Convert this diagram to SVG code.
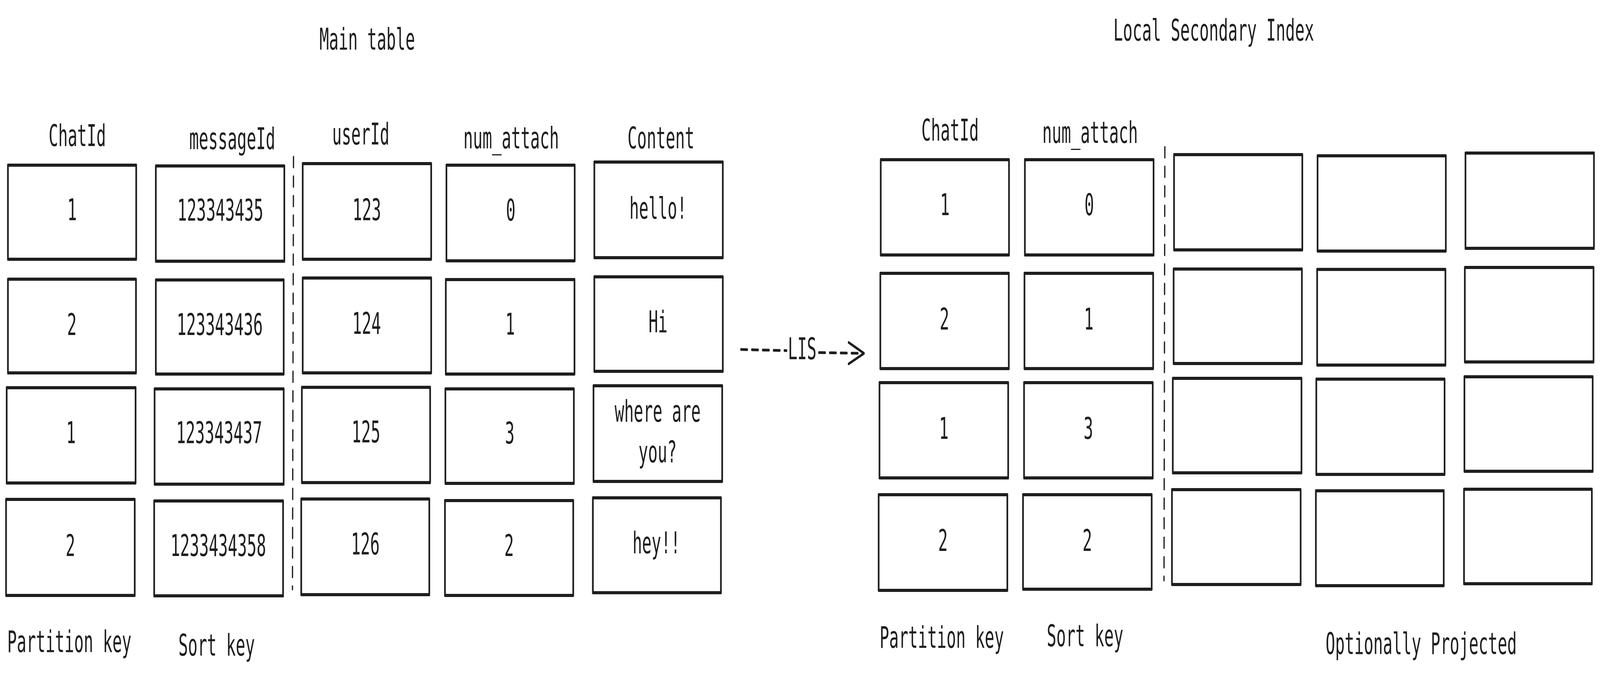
<svg xmlns="http://www.w3.org/2000/svg" width="7659" height="1739" viewBox="0 0 7659 1739" preserveAspectRatio="none" style="width:100vw;height:100vh;display:block">
<style>
  .box { fill: #ffffff; stroke: #1e1e1e; stroke-width: 8; stroke-linejoin: round; }
  .t { font-family: "DejaVu Sans Mono", "Liberation Mono", monospace; font-size: 76px; fill: #1e1e1e; text-anchor: middle; }
  .sep { stroke: #1e1e1e; stroke-width: 6; stroke-dasharray: 26 24; stroke-linecap: round; fill: none; }
  .conn { stroke: #1e1e1e; stroke-width: 7; stroke-dasharray: 30 22; stroke-linecap: round; fill: none; }
  .head { stroke: #1e1e1e; stroke-width: 7; stroke-linecap: round; stroke-linejoin: round; fill: none; }
</style>
<rect x="0" y="0" width="7659" height="1739" fill="#ffffff"/>

<!-- Titles and labels -->
<g id="title-main"><text class="t" x="1758" y="127">Main table</text></g>
<g id="title-lsi"><text class="t" x="5810" y="104">Local Secondary Index</text></g>

<g id="hdr-m-chatid"><text class="t" x="370" y="374">ChatId</text></g>
<g id="hdr-m-messageid"><text class="t" x="1112" y="382">messageId</text></g>
<g id="hdr-m-userid"><text class="t" x="1727" y="370">userId</text></g>
<g id="hdr-m-numattach"><text class="t" x="2447" y="380">num_attach</text></g>
<g id="hdr-m-content"><text class="t" x="3164" y="380">Content</text></g>
<g id="lbl-m-partition"><text class="t" x="332" y="1670">Partition key</text></g>
<g id="lbl-m-sort"><text class="t" x="1037" y="1679">Sort key</text></g>

<g id="hdr-l-chatid"><text class="t" x="4548" y="360">ChatId</text></g>
<g id="hdr-l-numattach"><text class="t" x="5218" y="366">num_attach</text></g>
<g id="lbl-l-partition"><text class="t" x="4508" y="1659">Partition key</text></g>
<g id="lbl-l-sort"><text class="t" x="5194" y="1655">Sort key</text></g>
<g id="lbl-l-projected"><text class="t" x="6803" y="1675">Optionally Projected</text></g>

<!-- Main table: ChatId -->
<g id="m-chat-1"><rect class="box" x="38" y="423" width="614" height="241"/><text class="t" x="345" y="564">1</text></g>
<g id="m-chat-2"><rect class="box" x="38" y="715" width="613" height="240"/><text class="t" x="344" y="858">2</text></g>
<g id="m-chat-3"><rect class="box" x="32" y="993" width="617" height="244"/><text class="t" x="340" y="1135">1</text></g>
<g id="m-chat-4"><rect class="box" x="29" y="1279" width="616" height="246"/><text class="t" x="337" y="1424">2</text></g>

<!-- Main table: messageId -->
<g id="m-msg-1"><rect class="box" x="746" y="425" width="615" height="244"/><text class="t" x="1055" y="565">123343435</text></g>
<g id="m-msg-2"><rect class="box" x="746" y="717" width="612" height="241"/><text class="t" x="1052" y="858">123343436</text></g>
<g id="m-msg-3"><rect class="box" x="740" y="996" width="618" height="244"/><text class="t" x="1049" y="1135">123343437</text></g>
<g id="m-msg-4"><rect class="box" x="738" y="1283" width="617" height="243"/><text class="t" x="1045" y="1424">1233434358</text></g>

<!-- Main table: userId -->
<g id="m-user-1"><rect class="box" x="1449" y="419" width="615" height="245"/><text class="t" x="1756" y="564">123</text></g>
<g id="m-user-2"><rect class="box" x="1449" y="712" width="615" height="243"/><text class="t" x="1755" y="855">124</text></g>
<g id="m-user-3"><rect class="box" x="1445" y="992" width="614" height="244"/><text class="t" x="1752" y="1133">125</text></g>
<g id="m-user-4"><rect class="box" x="1442" y="1278" width="613" height="245"/><text class="t" x="1749" y="1420">126</text></g>

<!-- Main table: num_attach -->
<g id="m-num-1"><rect class="box" x="2137" y="423" width="614" height="245"/><text class="t" x="2445" y="565">0</text></g>
<g id="m-num-2"><rect class="box" x="2134" y="716" width="616" height="242"/><text class="t" x="2442" y="857">1</text></g>
<g id="m-num-3"><rect class="box" x="2132" y="996" width="615" height="242"/><text class="t" x="2440" y="1136">3</text></g>
<g id="m-num-4"><rect class="box" x="2130" y="1282" width="614" height="243"/><text class="t" x="2437" y="1424">2</text></g>

<!-- Main table: Content -->
<g id="m-content-1"><rect class="box" x="2845" y="415" width="615" height="245"/><text class="t" x="3150" y="560">hello!</text></g>
<g id="m-content-2"><rect class="box" x="2845" y="709" width="615" height="242"/><text class="t" x="3150" y="851">Hi</text></g>
<g id="m-content-3"><rect class="box" x="2841" y="988" width="616" height="245"/><text class="t" x="3148" y="1080">where are</text><text class="t" x="3148" y="1184">you?</text></g>
<g id="m-content-4"><rect class="box" x="2838" y="1275" width="613" height="243"/><text class="t" x="3142" y="1417">hey!!</text></g>

<!-- LSI: ChatId -->
<g id="l-chat-1"><rect class="box" x="4216" y="409" width="614" height="244"/><text class="t" x="4523" y="551">1</text></g>
<g id="l-chat-2"><rect class="box" x="4214" y="700" width="615" height="244"/><text class="t" x="4521" y="844">2</text></g>
<g id="l-chat-3"><rect class="box" x="4210" y="980" width="616" height="244"/><text class="t" x="4518" y="1124">1</text></g>
<g id="l-chat-4"><rect class="box" x="4206" y="1267" width="616" height="245"/><text class="t" x="4514" y="1411">2</text></g>

<!-- LSI: num_attach -->
<g id="l-num-1"><rect class="box" x="4906" y="409" width="616" height="244"/><text class="t" x="5214" y="551">0</text></g>
<g id="l-num-2"><rect class="box" x="4904" y="700" width="616" height="244"/><text class="t" x="5212" y="844">1</text></g>
<g id="l-num-3"><rect class="box" x="4902" y="980" width="616" height="244"/><text class="t" x="5210" y="1124">3</text></g>
<g id="l-num-4"><rect class="box" x="4897" y="1267" width="616" height="242"/><text class="t" x="5205" y="1411">2</text></g>

<!-- LSI: optionally projected (empty) -->
<g id="l-p1-1"><rect class="box" x="5620" y="396" width="614" height="244"/></g>
<g id="l-p1-2"><rect class="box" x="5618" y="689" width="614" height="242"/></g>
<g id="l-p1-3"><rect class="box" x="5614" y="969" width="616" height="242"/></g>
<g id="l-p1-4"><rect class="box" x="5610" y="1254" width="616" height="243"/></g>

<g id="l-p2-1"><rect class="box" x="6307" y="399" width="614" height="244"/></g>
<g id="l-p2-2"><rect class="box" x="6305" y="690" width="614" height="245"/></g>
<g id="l-p2-3"><rect class="box" x="6301" y="971" width="614" height="244"/></g>
<g id="l-p2-4"><rect class="box" x="6299" y="1257" width="612" height="243"/></g>

<g id="l-p3-1"><rect class="box" x="7015" y="392" width="615" height="244"/></g>
<g id="l-p3-2"><rect class="box" x="7012" y="685" width="616" height="242"/></g>
<g id="l-p3-3"><rect class="box" x="7010" y="965" width="614" height="242"/></g>
<g id="l-p3-4"><rect class="box" x="7008" y="1253" width="612" height="242"/></g>

<!-- Dashed separators -->
<g id="separators">
  <line class="sep" x1="1405" y1="402" x2="1400" y2="1509"/>
  <line class="sep" x1="5576" y1="377" x2="5572" y2="1486"/>
</g>

<!-- Connectors -->
<g id="connectors">
  <g id="arrow-lis">
    <line class="conn" x1="3547" y1="895" x2="3765" y2="898"/>
    <line class="conn" x1="3920" y1="903" x2="4130" y2="905"/>
    <polyline class="head" points="4062,877 4136,905 4062,932"/>
    <text class="t" x="3840" y="920">LIS</text>
  </g>
</g>
</svg>
